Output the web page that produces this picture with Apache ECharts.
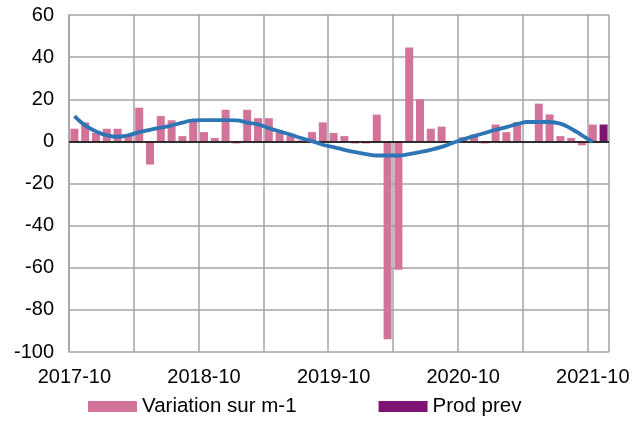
<!DOCTYPE html>
<html>
<head>
<meta charset="utf-8">
<script src="https://cdn.jsdelivr.net/npm/echarts@6/dist/echarts.min.js"></script>
<style>
    html, body { margin: 0; padding: 0; background: #fff; }
    #chart { width: 633px; height: 424px; }
</style>
</head>
<body>
<div id="chart"></div>
<script>
var months = [
    '2017-10','2017-11','2017-12','2018-01','2018-02','2018-03','2018-04','2018-05','2018-06','2018-07','2018-08','2018-09',
    '2018-10','2018-11','2018-12','2019-01','2019-02','2019-03','2019-04','2019-05','2019-06','2019-07','2019-08','2019-09',
    '2019-10','2019-11','2019-12','2020-01','2020-02','2020-03','2020-04','2020-05','2020-06','2020-07','2020-08','2020-09',
    '2020-10','2020-11','2020-12','2021-01','2021-02','2021-03','2021-04','2021-05','2021-06','2021-07','2021-08','2021-09',
    '2021-10','2021-11'
];
// variation sur m-1 (%)
var variation = [
    6, 9, 4, 6, 6, 3, 16, -11, 12, 10,
    2.5, 9.5, 4.4, 1.6, 15, -1, 15, 11, 11, 4,
    2.5, 0.5, 4.4, 9, 4, 2.5, -1, -1, 12.7, -94,
    -61, 44.6, 20, 6, 7, -0.5, 2, 3.2, -1, 8,
    4.4, 9.2, 0, 17.9, 12.8, 2.5, 1.6, -1.9, 8
];
// tendance lissée
var trend = [
    12, 7.6, 4.75, 2.9, 2.2, 2.9, 4.4, 5.5, 6.5, 7.6,
    8.9, 10, 10.1, 10.1, 10.1, 10, 8.9, 8.1, 6.3, 4.75,
    3.2, 1.6, 0.1, -1.6, -2.7, -4, -5.1, -6, -6.7, -6.7,
    -6.7, -6, -5.1, -4, -2.6, -0.8, 1, 2.5, 4, 5.5,
    6.8, 8.2, 9.2, 9.2, 9.2, 8.4, 6, 2.9, -0.3
];
var prodPrevMonth = '2021-11';
var prodPrevValue = 8;
var yTicks = [-100, -80, -60, -40, -20, 0, 20, 40, 60];

var font = "'Liberation Sans', Arial, sans-serif";
var gridColor = '#a3a3a3';

var myChart = echarts.init(document.getElementById('chart'));
var option = {
    animation: false,
    grid: {
        left: 69,
        top: 15,
        width: 540,
        bottom: 72
    },
    legend: {
        data: ['Variation sur m-1', 'Prod prev'],
        left: 88,
        top: 396,
        padding: 0,
        icon: 'rect',
        itemWidth: 49,
        itemHeight: 11,
        itemGap: 82,
        selectedMode: false,
        textStyle: {
            fontFamily: font,
            fontSize: 20.5,
            color: '#000'
        }
    },
    xAxis: {
        type: 'category',
        data: months,
        boundaryGap: true,
        axisLine: { show: false },
        axisTick: { show: false },
        axisLabel: {
            interval: function (i) { return i % 12 === 0; },
            margin: 15,
            color: '#000',
            fontFamily: font,
            fontSize: 20
        },
        splitLine: {
            show: true,
            interval: function (i) { return i % 6 === 0 && i < 49; },
            lineStyle: { color: gridColor, width: 1.5 }
        }
    },
    yAxis: {
        type: 'value',
        min: yTicks[0],
        max: yTicks[yTicks.length - 1],
        interval: 20,
        axisLine: { show: true, lineStyle: { color: gridColor, width: 1.5 } },
        axisTick: { show: false },
        axisLabel: {
            margin: 15,
            color: '#000',
            fontFamily: font,
            fontSize: 20
        },
        splitLine: { lineStyle: { color: gridColor, width: 1.5 } }
    },
    series: [
        {
            name: 'Variation sur m-1',
            type: 'bar',
            data: variation,
            barWidth: 8,
            barGap: '-100%',
            silent: true,
            emphasis: { disabled: true },
            itemStyle: { color: '#d47399', opacity: 1 },
            markLine: {
                silent: true,
                symbol: 'none',
                label: { show: false },
                lineStyle: { color: '#000', width: 1.5, type: 'solid' },
                data: [{ yAxis: 0 }]
            }
        },
        {
            name: 'Prod prev',
            type: 'bar',
            data: [[prodPrevMonth, prodPrevValue]],
            barWidth: 8,
            barGap: '-100%',
            silent: true,
            emphasis: { disabled: true },
            itemStyle: { color: '#7e1372' }
        },
        {
            name: 'Tendance',
            type: 'line',
            data: trend,
            smooth: true,
            symbol: 'none',
            silent: true,
            lineStyle: { color: '#2e75b6', width: 3.8 },
            z: 5
        }
    ]
};
myChart.setOption(option);
</script>
</body>
</html>
